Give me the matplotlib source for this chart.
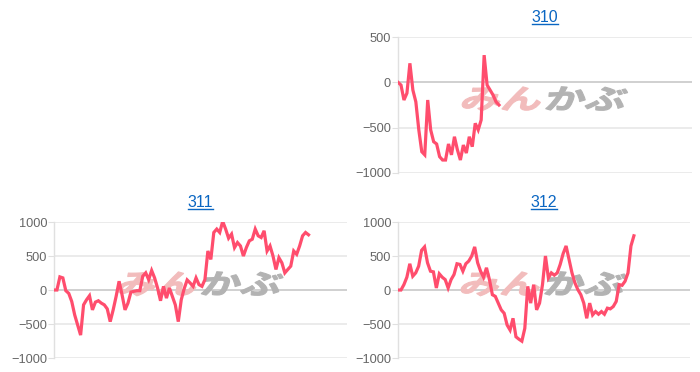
import matplotlib
matplotlib.use("Agg")
import matplotlib.pyplot as plt
from matplotlib.font_manager import FontProperties
from matplotlib.textpath import TextPath
from matplotlib.patches import PathPatch
from matplotlib.lines import Line2D
import matplotlib.transforms as mtransforms

plt.rcParams["font.family"] = ["Liberation Sans", "DejaVu Sans"]

# cumulative values per code (x is just the sample index)
titles = ["310", "311", "312"]

s310 = [0, -30, -195, -120, 210, -85, -215, -525, -765, -800, -195, -525,
        -655, -680, -820, -857, -857, -680, -800, -600, -745, -857, -692,
        -780, -600, -710, -452, -525, -415, 300, -30, -85, -140, -215, -250]

s311 = [0, 0, 193, 178, -10, -50, -168, -366, -515, -663, -218, -144, -84,
        -292, -178, -158, -193, -218, -277, -465, -292, -94, 129, -69, -292,
        -193, -30, -20, -10, -10, 203, 252, 153, 287, 178, 30, -158, 54,
        -119, 30, -94, -218, -465, -144, 20, 148, 104, 54, 178,
        79, 54, 153, 574, 450, 846, 896, 846, 1010, 896, 762, 822, 624, 698,
        648, 500, 624, 723, 747, 896, 797, 772, 871, 574, 648, 500, 302, 475,
        400, 252, 302, 351, 574, 525, 648, 797, 846, 812]

s312 = [0, 0, 79, 188, 386, 203, 252, 351, 584, 634, 401, 277, 267, 30, 238,
        188, 153, 30, 153, 228, 386, 376, 277, 386, 426, 500, 634, 401, 277,
        188, 327, 153, -69, -94, -193, -292, -342, -515, -589, -416, -688,
        -723, -752, -564, 54, -193, 79, -292,
        -193, 79, 500, 178, 252, 218, 252, 376, 535, 648, 450, 252, 104, 5,
        -69, -193, -416, -193, -366, -317, -356, -317, -356, -267, -277, -243,
        -168, 79, 69, 129, 252, 648, 797]

yticks_310 = [-1000, -500, 0, 500]
yticks_31x = [-1000, -500, 0, 500, 1000]
n_slots = 100

line_color = "#ff4d6d"
link_color = "#0a66c2"

fig = plt.figure(figsize=(7, 3.72), dpi=100)

ax310 = fig.add_axes([0.5686, 0.535, 0.42, 0.3655])
ax311 = fig.add_axes([0.0771, 0.0376, 0.4186, 0.3656])
ax312 = fig.add_axes([0.5686, 0.0376, 0.417, 0.3656])

panels = [(s310, yticks_310), (s311, yticks_31x), (s312, yticks_31x)]

for ax, (values, ticks) in zip([ax310, ax311, ax312], panels):
    ax.set_xlim(0, n_slots - 1)
    ax.set_ylim(ticks[0], ticks[-1])
    ax.set_yticks(ticks)
    ax.set_xticks([])
    for t in ticks:
        col = "#c4c4c4" if t == 0 else "#e6e6e6"
        ax.axhline(t, color=col, lw=1.1, zorder=1)
    for side in ["top", "right", "bottom"]:
        ax.spines[side].set_visible(False)
    ax.spines["left"].set_color("#e0e0e0")
    ax.spines["left"].set_linewidth(1)
    ax.tick_params(axis="y", length=4, color="#e0e0e0", labelsize=9.2,
                   labelcolor="#666666", pad=1)
    ax.plot(range(len(values)), values, color=line_color, lw=2.3,
            solid_joinstyle="miter", zorder=4)

# watermark
fig.canvas.draw()
wm_prop = FontProperties(family="Noto Sans CJK JP", weight="bold")
for ax in [ax310, ax311, ax312]:
    cx, cy = ax.transAxes.transform((0.5, 0.56))
    parts = [("みん", "#f2bcbc", -86), ("かぶ", "#b3b3b3", -2)]
    for txt, col, dx in parts:
        tp = TextPath((0, 0), txt, size=22, prop=wm_prop)
        tr = (mtransforms.Affine2D().scale(1.85, 1.25).skew_deg(14, 0)
              .translate(cx + dx, cy - 12))
        patch = PathPatch(tp, facecolor=col, edgecolor=col, lw=0.8,
                          transform=tr, zorder=2)
        patch.set_clip_on(False)
        ax.add_artist(patch)

# titles with underline
for ax, name in zip([ax310, ax311, ax312], titles):
    ax.text(0.5, 1.0 + 12 / ax.bbox.height, name, transform=ax.transAxes,
            ha="center", va="bottom", fontsize=11.5, color=link_color)
fig.canvas.draw()
rend = fig.canvas.get_renderer()
for ax in [ax310, ax311, ax312]:
    t = ax.texts[-1]
    bb = t.get_window_extent(rend)
    y = bb.y0 + 1
    fig.add_artist(Line2D([bb.x0 / fig.bbox.width, bb.x1 / fig.bbox.width],
                          [y / fig.bbox.height, y / fig.bbox.height],
                          color=link_color, lw=1.0))

fig.savefig("out.png", dpi=100)
